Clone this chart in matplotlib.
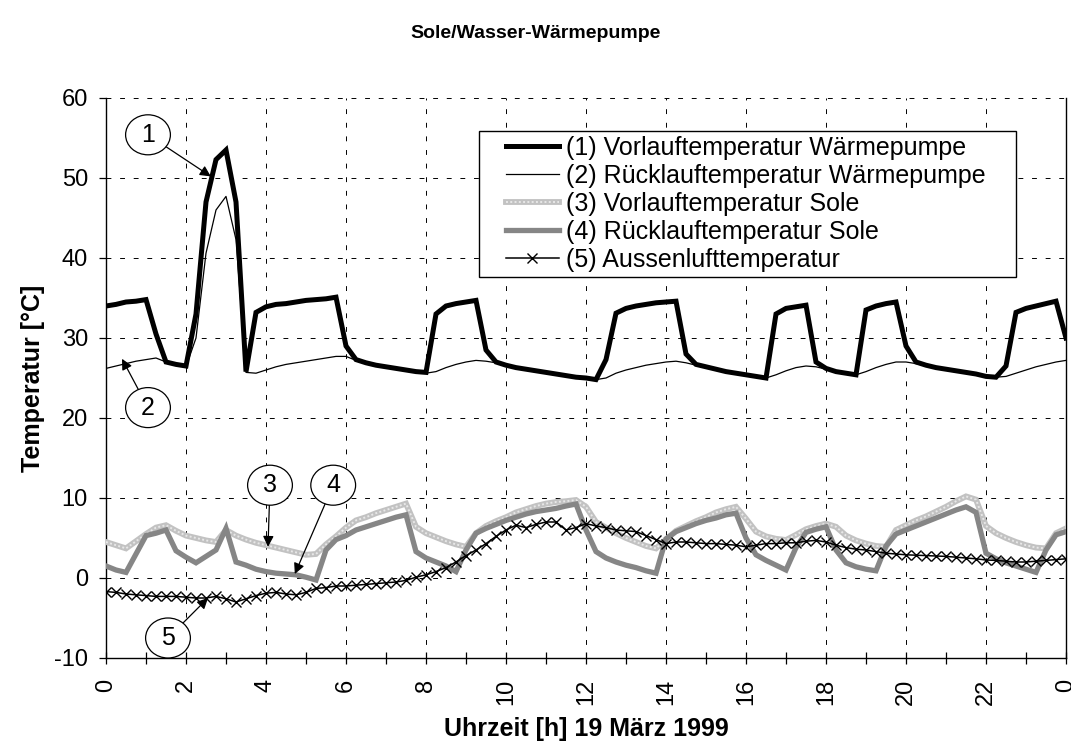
import numpy as np
import matplotlib
matplotlib.use("Agg")
import matplotlib.pyplot as plt
from matplotlib.patches import Ellipse, Rectangle

plt.rcParams['font.family'] = ['Liberation Sans', 'DejaVu Sans']
plt.rcParams['axes.unicode_minus'] = False

# ---------------- data (15-min samples, 19 March 1999) ----------------
hours = np.arange(0, 24.01, 0.25)

vorlauf_wp = [
    34.0, 34.2, 34.5, 34.6, 34.8, 30.5, 27.0, 26.7, 26.5, 33.0, 47.0, 52.3,
    53.5, 47.0, 25.8, 33.2, 33.9, 34.2, 34.3, 34.5, 34.7, 34.8, 34.9, 35.1,
    29.0, 27.3, 26.9, 26.6, 26.4, 26.2, 26.0, 25.8, 25.7, 33.0, 34.0, 34.3,
    34.5, 34.7, 28.5, 27.0, 26.6, 26.3, 26.1, 25.9, 25.7, 25.5, 25.3, 25.1,
    25.0, 24.8, 27.3, 33.1, 33.7, 34.0, 34.2, 34.4, 34.5, 34.6, 28.0, 26.7,
    26.4, 26.1, 25.8, 25.6, 25.4, 25.2, 25.0, 33.0, 33.7, 33.9, 34.1, 27.0,
    26.2, 25.8, 25.6, 25.4, 33.5, 34.0, 34.3, 34.5, 29.0, 27.0, 26.6, 26.3,
    26.1, 25.9, 25.7, 25.5, 25.2, 25.1, 26.5, 33.2, 33.7, 34.0, 34.3, 34.6,
    30.0]

ruecklauf_wp = [
    26.2, 26.5, 26.8, 27.1, 27.3, 27.5, 27.0, 26.6, 26.4, 30.0, 40.6, 46.0,
    47.7, 42.3, 25.7, 25.6, 26.0, 26.4, 26.7, 26.9, 27.1, 27.3, 27.5, 27.7,
    27.7, 27.2, 26.9, 26.6, 26.4, 26.2, 26.0, 25.8, 25.6, 25.8, 26.3, 26.7,
    27.0, 27.2, 27.1, 26.9, 26.5, 26.3, 26.1, 25.9, 25.7, 25.5, 25.3, 25.1,
    25.0, 24.8, 25.0, 25.6, 26.0, 26.3, 26.6, 26.8, 27.0, 27.1, 26.9, 26.6,
    26.3, 26.1, 25.8, 25.6, 25.4, 25.2, 25.0, 25.4, 25.9, 26.3, 26.5, 26.4,
    26.1, 25.8, 25.6, 25.4, 25.8, 26.3, 26.7, 27.0, 27.0, 26.8, 26.5, 26.3,
    26.1, 25.9, 25.7, 25.5, 25.2, 25.1, 25.2, 25.6, 26.0, 26.4, 26.7, 27.0,
    27.2]

vorlauf_sole = [
    4.5, 4.1, 3.7, 4.6, 5.5, 6.3, 6.6, 5.9, 5.3, 5.0, 4.7, 4.5,
    6.0, 5.3, 4.8, 4.4, 4.1, 3.8, 3.5, 3.2, 2.9, 3.0, 4.2, 5.2,
    6.3, 7.2, 7.6, 8.1, 8.5, 8.9, 9.3, 6.4, 5.6, 5.1, 4.6, 4.2,
    3.9, 5.6, 6.5, 7.1, 7.6, 8.2, 8.6, 9.0, 9.3, 9.5, 9.6, 9.75,
    8.9, 7.0, 6.3, 5.6, 5.0, 4.5, 4.0, 3.7, 4.8, 5.9, 6.5, 7.1,
    7.6, 8.2, 8.6, 8.9, 7.4, 5.8, 5.2, 4.9, 4.75, 5.4, 6.1, 6.5,
    6.8, 6.4, 5.3, 4.7, 4.3, 4.0, 3.9, 6.0, 6.6, 7.2, 7.7, 8.3,
    8.9, 9.6, 10.2, 9.8, 6.5, 5.6, 5.0, 4.5, 4.1, 3.8, 3.7, 5.6,
    6.2]

ruecklauf_sole = [
    1.5, 1.0, 0.7, 3.0, 5.3, 5.6, 6.0, 3.4, 2.6, 1.9, 2.7, 3.5,
    6.2, 2.0, 1.6, 1.1, 0.8, 0.6, 0.5, 0.4, 0.1, -0.25, 3.5, 4.8,
    5.3, 6.0, 6.4, 6.8, 7.2, 7.6, 7.9, 3.3, 2.5, 2.0, 1.5, 0.8,
    3.5, 5.6, 6.2, 6.7, 7.2, 7.6, 8.0, 8.3, 8.5, 8.7, 9.0, 9.25,
    6.0, 3.3, 2.5, 2.0, 1.6, 1.3, 0.9, 0.6, 4.9, 5.8, 6.3, 6.8,
    7.2, 7.5, 7.9, 8.1, 5.0, 2.9, 2.2, 1.6, 1.0, 3.8, 5.7, 6.1,
    6.4, 3.5, 1.9, 1.4, 1.1, 0.9, 4.0, 5.5, 6.0, 6.5, 7.0, 7.5,
    8.0, 8.5, 8.9, 8.2, 3.1, 2.4, 1.9, 1.5, 1.1, 0.7, 3.5, 5.4,
    5.8]

aussenluft = [
    -1.7, -1.8, -2.0, -2.1, -2.2, -2.3, -2.3, -2.3, -2.4, -2.5, -2.5, -2.3,
    -2.6, -3.0, -2.6, -2.2, -1.9, -1.8, -2.0, -2.1, -1.8, -1.3, -1.2, -1.0,
    -1.0, -0.9, -0.8, -0.7, -0.6, -0.5, -0.3, 0.1, 0.4, 0.8, 1.3, 2.0,
    2.8, 3.5, 4.3, 5.2, 6.0, 6.6, 6.3, 6.7, 7.0, 7.0, 6.0, 6.3,
    6.8, 6.5, 6.3, 6.0, 5.9, 5.8, 5.3, 4.8, 4.3, 4.5, 4.5, 4.4,
    4.3, 4.3, 4.2, 4.1, 3.9, 4.1, 4.3, 4.3, 4.4, 4.4, 4.6, 4.7,
    4.5, 4.1, 3.8, 3.6, 3.5, 3.3, 3.1, 3.0, 2.9, 2.85, 2.8, 2.75,
    2.7, 2.6, 2.5, 2.4, 2.25, 2.2, 2.1, 2.0, 2.0, 2.1, 2.2, 2.3,
    2.4]

labels = ["(1) Vorlauftemperatur Wärmepumpe",
          "(2) Rücklauftemperatur Wärmepumpe",
          "(3) Vorlauftemperatur Sole",
          "(4) Rücklauftemperatur Sole",
          "(5) Aussenlufttemperatur"]

xtick_pos = list(range(0, 25, 2))
xtick_labels = ["0", "2", "4", "6", "8", "10", "12", "14", "16", "18", "20", "22", "0"]
ytick_pos = list(range(-10, 61, 10))

# ---------------- figure ----------------
W, H = 1071, 744
fig = plt.figure(figsize=(W / 100, H / 100), dpi=100)
ax = fig.add_axes([106 / W, 1 - 658 / H, 960 / W, 560 / H])

l3a, = ax.plot(hours, vorlauf_sole, color='#c2c2c2', lw=4.2, solid_joinstyle='miter', zorder=3)
l3b, = ax.plot(hours, vorlauf_sole, color='#e8e8e8', lw=1.4, linestyle=(0, (1, 1.2)), zorder=3.1)
l4, = ax.plot(hours, ruecklauf_sole, color='#868686', lw=3.8, solid_joinstyle='miter', zorder=3.2)
l5, = ax.plot(hours, aussenluft, color='black', lw=1.1, marker='x', markersize=6.5,
              markeredgewidth=1.0, zorder=3.3)
l1, = ax.plot(hours, vorlauf_wp, color='black', lw=3.6, solid_joinstyle='miter', zorder=4)
l2, = ax.plot(hours, ruecklauf_wp, color='black', lw=0.9, zorder=4.1)

ax.set_xlim(0, 24)
ax.set_ylim(-10, 60)
ax.set_xticks(xtick_pos)
ax.set_xticklabels(xtick_labels, rotation=90)
ax.set_xticks(range(1, 24, 2), minor=True)
ax.set_yticks(ytick_pos)

ax.grid(True, which='major', color='black', linestyle=(0, (5, 9)), linewidth=0.7)
ax.set_axisbelow(True)

for s in ['left', 'bottom', 'right']:
    ax.spines[s].set_linewidth(1.0)
    ax.spines[s].set_color('black')
ax.spines['top'].set_visible(False)

ax.tick_params(axis='x', which='both', direction='inout', length=8, width=0.9,
               labelsize=17, pad=11)
ax.tick_params(axis='y', which='major', direction='out', length=5, width=0.9,
               labelsize=17, pad=8)

# legend with manual white frame
fig.add_artist(Rectangle((479 / W, 1 - 277 / H), (1016 - 479) / W, (277 - 131) / H,
                         transform=fig.transFigure, fc='white', ec='black', lw=1.0,
                         zorder=4))
handles = [l1, l2, (l3a, l3b), l4, l5]
leg = fig.legend(handles, labels, loc='upper left',
                 bbox_to_anchor=(506 / W, 1 - 136 / H),
                 frameon=False, fontsize=18, handlelength=2.1, handletextpad=0.3,
                 labelspacing=0.16, borderpad=0.0, borderaxespad=0.0)
leg.set_zorder(5)

# numbered callouts
callouts = [
    ("1", (1.05, 55.4), (2.62, 50.2)),
    ("2", (1.05, 21.3), (0.40, 27.4)),
    ("3", (4.10, 11.6), (4.05, 3.9)),
    ("4", (5.68, 11.6), (4.72, 0.5)),
    ("5", (1.55, -7.5), (2.55, -2.5)),
]
for txt, c, tip in callouts:
    e = Ellipse(c, width=1.12, height=5.0, fc='white', ec='black', lw=0.9, zorder=6)
    ax.add_patch(e)
    ax.text(c[0], c[1], txt, ha='center', va='center', fontsize=18, zorder=7)
    ax.annotate('', xy=tip, xytext=c,
                arrowprops=dict(arrowstyle='-|>', color='black', lw=0.9,
                                mutation_scale=16, patchA=e, shrinkA=0, shrinkB=0),
                zorder=6)

fig.text(536 / W, 1 - 33 / H, 'Sole/Wasser-Wärmepumpe', ha='center', va='center',
         fontsize=14, fontweight='bold')
fig.text(586 / W, 1 - 729 / H, 'Uhrzeit [h] 19 März 1999', ha='center', va='center',
         fontsize=18, fontweight='bold')
fig.text(33 / W, 1 - 378 / H, 'Temperatur [°C]', ha='center', va='center',
         rotation=90, fontsize=18, fontweight='bold')

fig.savefig('out.png', dpi=100)
